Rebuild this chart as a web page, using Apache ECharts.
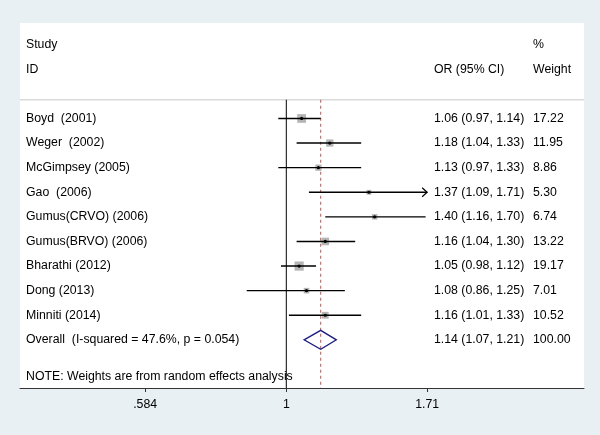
<!DOCTYPE html>
<html><head><meta charset="utf-8">
<script src="https://cdn.jsdelivr.net/npm/echarts@6/dist/echarts.min.js"></script>
<style>html,body{margin:0;padding:0;background:#e8f0f3;} #c{width:600px;height:435px;}</style>
</head><body><div id="c"></div>
<script>
// ---- data ----
const studies = ['Boyd  (2001)','Weger  (2002)','McGimpsey (2005)','Gao  (2006)','Gumus(CRVO) (2006)','Gumus(BRVO) (2006)','Bharathi (2012)','Dong (2013)','Minniti (2014)'];
const orValues = [1.06,1.18,1.13,1.37,1.40,1.16,1.05,1.08,1.16];
const ciLow    = [0.97,1.04,0.97,1.09,1.16,1.04,0.98,0.86,1.01];
const ciHigh   = [1.14,1.33,1.33,1.71,1.70,1.30,1.12,1.25,1.33];
const weights  = [17.22,11.95,8.86,5.30,6.74,13.22,19.17,7.01,10.52];
const overallLabel = 'Overall  (I-squared = 47.6%, p = 0.054)';
const overallOR = 1.14, overallLow = 1.07, overallHigh = 1.21, overallWeight = 100.00;
const tickValues = [0.584, 1, 1.71];
const tickLabels = ['.584', '1', '1.71'];
const noteText = 'NOTE: Weights are from random effects analysis';

// ---- layout ----
const FONT = '12.3px "Liberation Sans", Arial, sans-serif';
const colStudyX = 26, colOrX = 434, colWX = 533;
const xMinOR = 0.3626, xMaxOR = 3.108;
const rowMin = -3.88, rowMax = 10.957;
const sepRow = -0.76, overallRow = studies.length, noteRow = studies.length + 1.5;
const boxScale = 2.1, diamondHalf = 9.5;

const fmt = v => v.toFixed(2);
const tableRows = [
  ['Study', '', '%', -3],
  ['ID', 'OR (95% CI)', 'Weight', -2]
];
studies.forEach((s, i) => tableRows.push([s, fmt(orValues[i]) + ' (' + fmt(ciLow[i]) + ', ' + fmt(ciHigh[i]) + ')', fmt(weights[i]), i]));
tableRows.push([overallLabel, fmt(overallOR) + ' (' + fmt(overallLow) + ', ' + fmt(overallHigh) + ')', fmt(overallWeight), overallRow]);
tableRows.push([noteText, '', '', noteRow]);

const studyData = studies.map((s, i) => [Math.log(orValues[i]), i, Math.log(ciLow[i]), Math.log(ciHigh[i]), weights[i]]);

const chart = echarts.init(document.getElementById('c'));
chart.setOption({
  backgroundColor: '#e8f0f3',
  animation: false,
  grid: { left: 20, right: 16, top: 23, bottom: 47, show: true, backgroundColor: '#ffffff', borderWidth: 0 },
  xAxis: {
    type: 'value', min: Math.log(xMinOR), max: Math.log(xMaxOR),
    splitLine: { show: false },
    axisLine: { onZero: false, lineStyle: { color: '#333', width: 1 } },
    axisTick: { customValues: tickValues.map(Math.log), length: 4, lineStyle: { color: '#333' } },
    axisLabel: {
      customValues: tickValues.map(Math.log), margin: 11, color: '#000',
      fontFamily: '"Liberation Sans", Arial, sans-serif', fontSize: 12.3,
      formatter: v => { let b = 0; tickValues.forEach((t, k) => { if (Math.abs(Math.log(t) - v) < Math.abs(Math.log(tickValues[b]) - v)) b = k; }); return tickLabels[b]; }
    }
  },
  yAxis: { type: 'value', inverse: true, min: rowMin, max: rowMax, show: false, splitLine: { show: false } },
  series: [
    { // frame lines: separator, null line, pooled estimate line
      type: 'custom', data: [[0, 0]], encode: { x: 0, y: 1 }, z: 1,
      renderItem: (params, api) => {
        const cs = params.coordSys;
        const ySep = api.coord([0, sepRow])[1];
        const yBot = cs.y + cs.height;
        const xNull = api.coord([0, 0])[0];
        const xPool = api.coord([Math.log(overallOR), 0])[0];
        return { type: 'group', children: [
          { type: 'line', shape: { x1: cs.x, y1: ySep, x2: cs.x + cs.width, y2: ySep }, style: { stroke: '#dadada', lineWidth: 1.5 } },
          { type: 'line', shape: { x1: xNull, y1: ySep, x2: xNull, y2: yBot }, style: { stroke: '#000', lineWidth: 1 } },
          { type: 'line', shape: { x1: xPool, y1: ySep, x2: xPool, y2: yBot }, style: { stroke: '#c0504d', lineWidth: 1, lineDash: [3, 3] } }
        ]};
      }
    },
    { // studies
      type: 'custom', data: studyData, encode: { x: [0, 2, 3], y: 1 }, z: 3,
      renderItem: (params, api) => {
        const row = api.value(1);
        const [xc, y] = api.coord([api.value(0), row]);
        const xl = api.coord([api.value(2), row])[0];
        const xh = api.coord([api.value(3), row])[0];
        const s = Math.sqrt(api.value(4)) * boxScale;
        const ch = [
          { type: 'rect', shape: { x: xc - s / 2, y: y - s / 2, width: s, height: s }, style: { fill: '#b5b5b5' } },
          { type: 'line', shape: { x1: xl, y1: y, x2: xh, y2: y }, style: { stroke: '#000', lineWidth: 1.4 } },
          { type: 'circle', shape: { cx: xc, cy: y, r: 1.6 }, style: { fill: '#000' } }
        ];
        if (ciHigh[params.dataIndex] >= tickValues[tickValues.length - 1]) {
          ch.push({ type: 'polyline', shape: { points: [[xh - 5, y - 4.5], [xh, y], [xh - 5, y + 4.5]] }, style: { stroke: '#000', lineWidth: 1.2, fill: null } });
        }
        return { type: 'group', children: ch };
      }
    },
    { // overall diamond
      type: 'custom', data: [[Math.log(overallOR), overallRow, Math.log(overallLow), Math.log(overallHigh)]], encode: { x: [0, 2, 3], y: 1 }, z: 3,
      renderItem: (params, api) => {
        const row = api.value(1);
        const [xc, y] = api.coord([api.value(0), row]);
        const xl = api.coord([api.value(2), row])[0];
        const xh = api.coord([api.value(3), row])[0];
        return { type: 'polygon', shape: { points: [[xl, y], [xc, y - diamondHalf], [xh, y], [xc, y + diamondHalf]] }, style: { stroke: '#1c1c80', lineWidth: 1.3, fill: null } };
      }
    },
    { // table texts
      type: 'custom', data: tableRows.map(r => [0, r[3]]), encode: { x: 0, y: 1 }, z: 4,
      renderItem: (params, api) => {
        const r = tableRows[params.dataIndex];
        const y = api.coord([0, api.value(1)])[1];
        const mk = (t, x) => ({ type: 'text', style: { text: t, x: x, y: y, font: FONT, fill: '#000', align: 'left', verticalAlign: 'middle' } });
        return { type: 'group', children: [mk(r[0], colStudyX), mk(r[1], colOrX), mk(r[2], colWX)] };
      }
    }
  ]
});
</script>
</body></html>
